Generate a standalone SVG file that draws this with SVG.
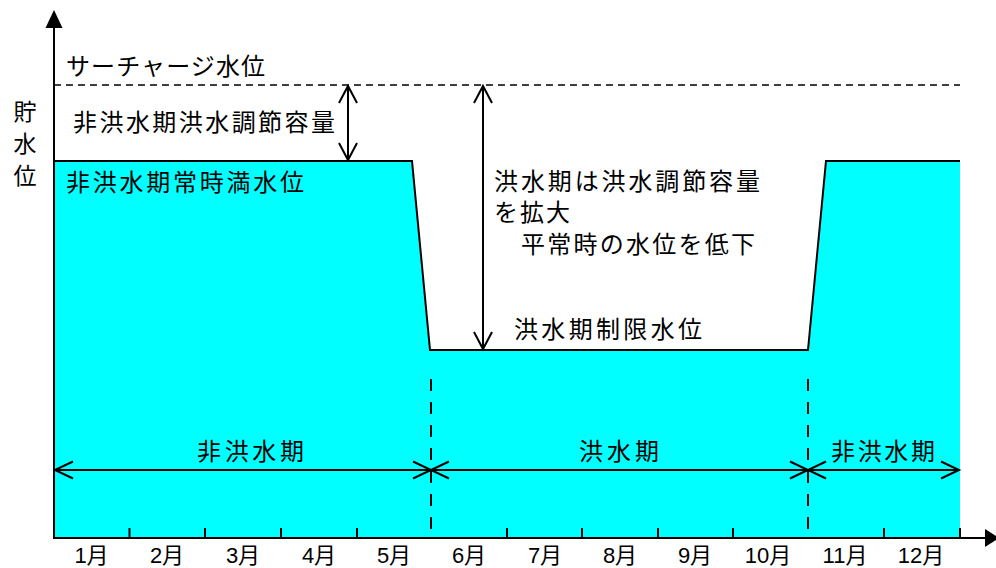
<svg xmlns="http://www.w3.org/2000/svg" width="996" height="568" viewBox="0 0 996 568">
<style>
text { font-family: "Noto Sans CJK JP", "Noto Sans", sans-serif; font-size: 24px; fill: #000; }
.v { font-size: 23px; text-anchor: middle; }
.m { font-family: "Liberation Sans", "Noto Sans CJK JP", sans-serif; font-size: 22px; text-anchor: middle; }
.ln { stroke: #000; stroke-width: 2; fill: none; }
.dash { stroke: #000; stroke-width: 1.6; fill: none; stroke-dasharray: 7 5; }
.vdash { stroke: #000; stroke-width: 2; fill: none; stroke-dasharray: 12 11; }
</style>
<rect width="996" height="568" fill="#fff"/>
<g id="water">
  <path d="M54,161 L412,161 L430,350 L808,350 L826,161 L960,161 L960,537 L54,537 Z" fill="#00ffff"/>
  <path class="ln" d="M54,161 L412,161 L430,350 L808,350 L826,161 L960,161"/>
</g>
<g id="axes">
  <line class="ln" x1="54" y1="26" x2="54" y2="538"/>
  <polygon points="54,10 45.5,28 62.5,28" fill="#000"/>
  <line class="ln" x1="53" y1="538" x2="986" y2="538"/>
  <polygon points="999,538 985,529 985,547" fill="#000"/>
  <g class="ln">
    <line x1="129.5" y1="528" x2="129.5" y2="538"/>
    <line x1="205" y1="528" x2="205" y2="538"/>
    <line x1="281" y1="528" x2="281" y2="538"/>
    <line x1="357" y1="528" x2="357" y2="538"/>
    <line x1="507" y1="528" x2="507" y2="538"/>
    <line x1="582" y1="528" x2="582" y2="538"/>
    <line x1="658" y1="528" x2="658" y2="538"/>
    <line x1="733" y1="528" x2="733" y2="538"/>
    <line x1="884" y1="528" x2="884" y2="538"/>
    <line x1="960" y1="528" x2="960" y2="538"/>
  </g>
</g>
<g id="connectors">
  <line class="dash" x1="54" y1="85" x2="960" y2="85"/>
  <line class="vdash" x1="431" y1="379" x2="431" y2="538"/>
  <line class="vdash" x1="808" y1="379" x2="808" y2="538"/>
  <g class="ln">
    <line x1="348" y1="86" x2="348" y2="160"/>
    <polyline points="339,103 348,86 357,103"/>
    <polyline points="339,143 348,160 357,143"/>
    <line x1="483" y1="86" x2="483" y2="349"/>
    <polyline points="474,103 483,86 492,103"/>
    <polyline points="474,332 483,349 492,332"/>
    <line x1="55" y1="470" x2="959" y2="470"/>
    <polyline points="73,461.5 55,470 73,478.5"/>
    <polyline points="413,461.5 431,470 413,478.5"/>
    <polyline points="449,461.5 431,470 449,478.5"/>
    <polyline points="790,461.5 808,470 790,478.5"/>
    <polyline points="826,461.5 808,470 826,478.5"/>
    <polyline points="941,461.5 959,470 941,478.5"/>
  </g>
</g>
<g id="labels">
  <text x="66" y="75" textLength="199" lengthAdjust="spacing">サーチャージ水位</text>
  <text x="73" y="131" textLength="262" lengthAdjust="spacing">非洪水期洪水調節容量</text>
  <text x="66" y="191" textLength="238" lengthAdjust="spacing">非洪水期常時満水位</text>
  <text class="v" x="25" y="120">貯</text>
  <text class="v" x="25" y="152">水</text>
  <text class="v" x="25" y="184">位</text>
  <text x="494" y="190" textLength="266" lengthAdjust="spacing">洪水期は洪水調節容量</text>
  <text x="494" y="221" textLength="76" lengthAdjust="spacing">を拡大</text>
  <text x="521" y="253" textLength="234" lengthAdjust="spacing">平常時の水位を低下</text>
  <text x="514" y="338" textLength="188" lengthAdjust="spacing">洪水期制限水位</text>
  <text x="197" y="460" textLength="107" lengthAdjust="spacing">非洪水期</text>
  <text x="579" y="460" textLength="80" lengthAdjust="spacing">洪水期</text>
  <text x="831" y="460" textLength="104" lengthAdjust="spacing">非洪水期</text>
</g>
<g id="months">
  <text class="m" x="91.5" y="563">1月</text>
  <text class="m" x="167" y="563">2月</text>
  <text class="m" x="243" y="563">3月</text>
  <text class="m" x="319" y="563">4月</text>
  <text class="m" x="394" y="563">5月</text>
  <text class="m" x="469" y="563">6月</text>
  <text class="m" x="545" y="563">7月</text>
  <text class="m" x="620" y="563">8月</text>
  <text class="m" x="695" y="563">9月</text>
  <text class="m" x="768" y="563">10月</text>
  <text class="m" x="845" y="563">11月</text>
  <text class="m" x="921" y="563">12月</text>
</g>
</svg>
